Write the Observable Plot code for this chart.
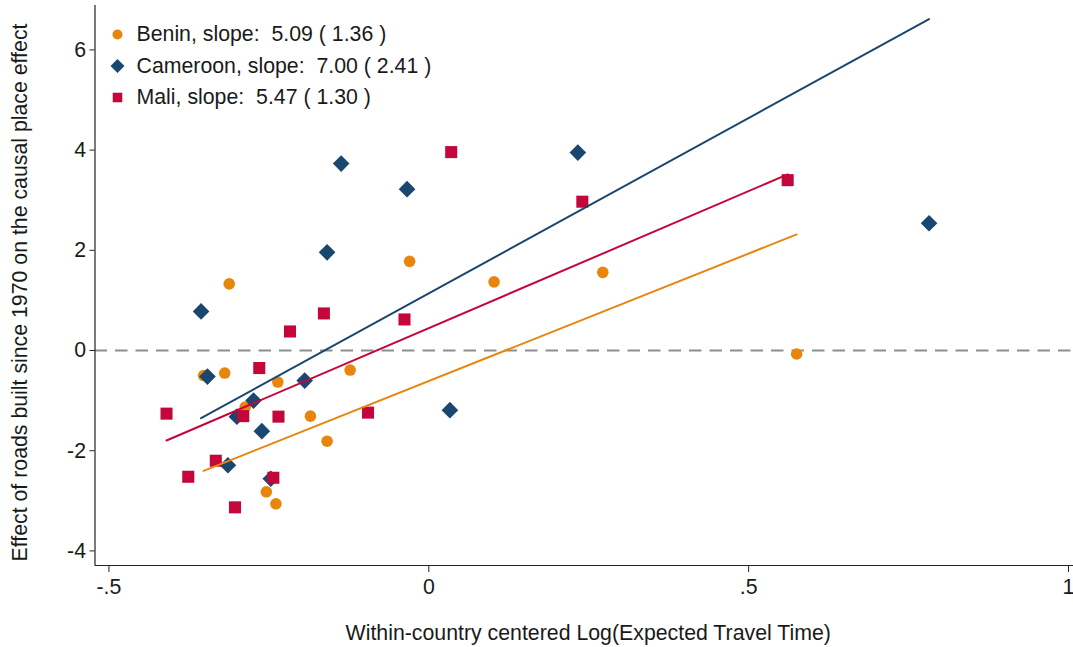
<!DOCTYPE html>
<html>
<head>
<meta charset="utf-8">
<script src="https://cdn.jsdelivr.net/npm/d3@7"></script>
<script src="https://cdn.jsdelivr.net/npm/@observablehq/plot@0.6"></script>
<style>
  html, body { margin: 0; padding: 0; background: #fff; }
  #chart svg { display: block; }
  #chart text { white-space: pre; }
</style>
</head>
<body>
<div id="chart"></div>
<script>
// Countries, fitted slopes (with standard errors) and intercepts of the linear fits
const countries = ["Benin", "Cameroon", "Mali"];
const slopes = [5.09, 7.00, 5.47];
const slopeSE = [1.36, 2.41, 1.30];
const intercepts = [-0.61, 1.14, 0.447];
const colors = ["#E8860C", "#1A476F", "#C5063A"];
const symbols = ["circle", "diamond2", "square"];
const markerR = [5.8, 7.5, 6.8];
const legendR = [5.0, 6.3, 5.4];

// Place-level estimates: centered log expected travel time (x) and road effect (y)
const beninX = [-0.312, -0.030, 0.102, 0.272, 0.575, -0.352, -0.319, -0.236, -0.123, -0.287, -0.185, -0.159, -0.254, -0.239];
const beninY = [1.33, 1.78, 1.37, 1.56, -0.07, -0.50, -0.45, -0.63, -0.39, -1.13, -1.31, -1.81, -2.82, -3.06];

const cameroonX = [-0.356, -0.346, -0.274, -0.300, -0.261, -0.314, -0.247, -0.194, -0.159, -0.137, -0.034, 0.033, 0.233, 0.782];
const cameroonY = [0.78, -0.52, -1.00, -1.32, -1.61, -2.29, -2.56, -0.60, 1.96, 3.73, 3.22, -1.19, 3.95, 2.54];

const maliX = [-0.410, -0.376, -0.333, -0.303, -0.290, -0.265, -0.243, -0.235, -0.217, -0.164, -0.095, -0.038, 0.035, 0.240, 0.561];
const maliY = [-1.26, -2.52, -2.20, -3.13, -1.31, -0.35, -2.54, -1.32, 0.38, 0.74, -1.24, 0.62, 3.96, 2.97, 3.40];

// Axis ticks and labels
const xTicks = [-0.5, 0, 0.5, 1];
const xTickLabels = ["-.5", "0", ".5", "1"];
const yTicks = [-4, -2, 0, 2, 4, 6];
const yTickLabels = ["-4", "-2", "0", "2", "4", "6"];
const xDomain = [-0.5218, 1.0078];
const yDomain = [-4.291, 6.886];

const xTitle = "Within-country centered Log(Expected Travel Time)";
const yTitle = "Effect of roads built since 1970 on the causal place effect";

const xs = [beninX, cameroonX, maliX];
const ys = [beninY, cameroonY, maliY];

const pointsOf = (i) => xs[i].map((x, j) => ({country: countries[i], x, y: ys[i][j]}));
const fitOf = (i) => {
  const [lo, hi] = d3.extent(xs[i]);
  return [lo, hi].map((x) => ({country: countries[i], x, y: intercepts[i] + slopes[i] * x}));
};
const legendText = (i) =>
  `${countries[i]}, slope:  ${slopes[i].toFixed(2)} ( ${slopeSE[i].toFixed(2)} )`;

const font = "'Liberation Sans', Arial, Helvetica, sans-serif";
const fs = 21.3;

const chart = Plot.plot({
  width: 1073,
  height: 647,
  marginLeft: 94.5,
  marginRight: 0,
  marginTop: 5,
  marginBottom: 82,
  style: {fontFamily: font, fontSize: fs + "px", color: "#1a1a1a", background: "#fff"},
  x: {domain: xDomain},
  y: {domain: yDomain},
  marks: [
    // reference line at zero
    Plot.ruleY([0], {stroke: "#8e8e8e", strokeWidth: 2, strokeDasharray: "12.5,8"}),
    // scatter points per country
    ...countries.map((c, i) =>
      Plot.dot(pointsOf(i), {x: "x", y: "y", symbol: symbols[i], r: markerR[i], fill: colors[i], stroke: "none"})
    ),
    // linear fits
    ...countries.map((c, i) =>
      Plot.line(fitOf(i), {x: "x", y: "y", stroke: colors[i], strokeWidth: 2})
    ),
    // axis lines
    Plot.ruleX([xDomain[0]], {stroke: "#222", strokeWidth: 1.2}),
    Plot.ruleY([yDomain[0]], {stroke: "#222", strokeWidth: 1.2}),
    Plot.axisY(yTicks, {
      tickSize: 5, tickPadding: 4, stroke: "#222",
      tickFormat: (d) => yTickLabels[yTicks.indexOf(d)],
      fontSize: fs, label: null
    }),
    Plot.axisX(xTicks, {
      tickSize: 7, tickPadding: 6, stroke: "#222",
      tickFormat: (d) => xTickLabels[xTicks.indexOf(d)],
      fontSize: fs, label: null
    }),
    // axis titles
    Plot.text([yTitle], {
      text: (d) => d, frameAnchor: "left", rotate: -90, dx: -74.5, dy: 7,
      textAnchor: "middle", lineAnchor: "middle",
      fontSize: fs, fill: "#1a1a1a"
    }),
    Plot.text([xTitle], {
      text: (d) => d, frameAnchor: "bottom", dx: 4, dy: 68,
      textAnchor: "middle", lineAnchor: "middle",
      fontSize: fs, fill: "#1a1a1a"
    }),
    // legend
    ...countries.flatMap((c, i) => [
      Plot.dot([c], {
        frameAnchor: "top-left", dx: 22.5, dy: 29 + i * 31.5,
        symbol: symbols[i], r: legendR[i], fill: colors[i], stroke: "none"
      }),
      Plot.text([c], {
        frameAnchor: "top-left", dx: 41.5, dy: 29 + i * 31.5,
        text: () => legendText(i), textAnchor: "start", lineAnchor: "middle",
        fontSize: fs, fill: "#1a1a1a"
      })
    ])
  ]
});

document.getElementById("chart").appendChild(chart);
</script>
</body>
</html>
